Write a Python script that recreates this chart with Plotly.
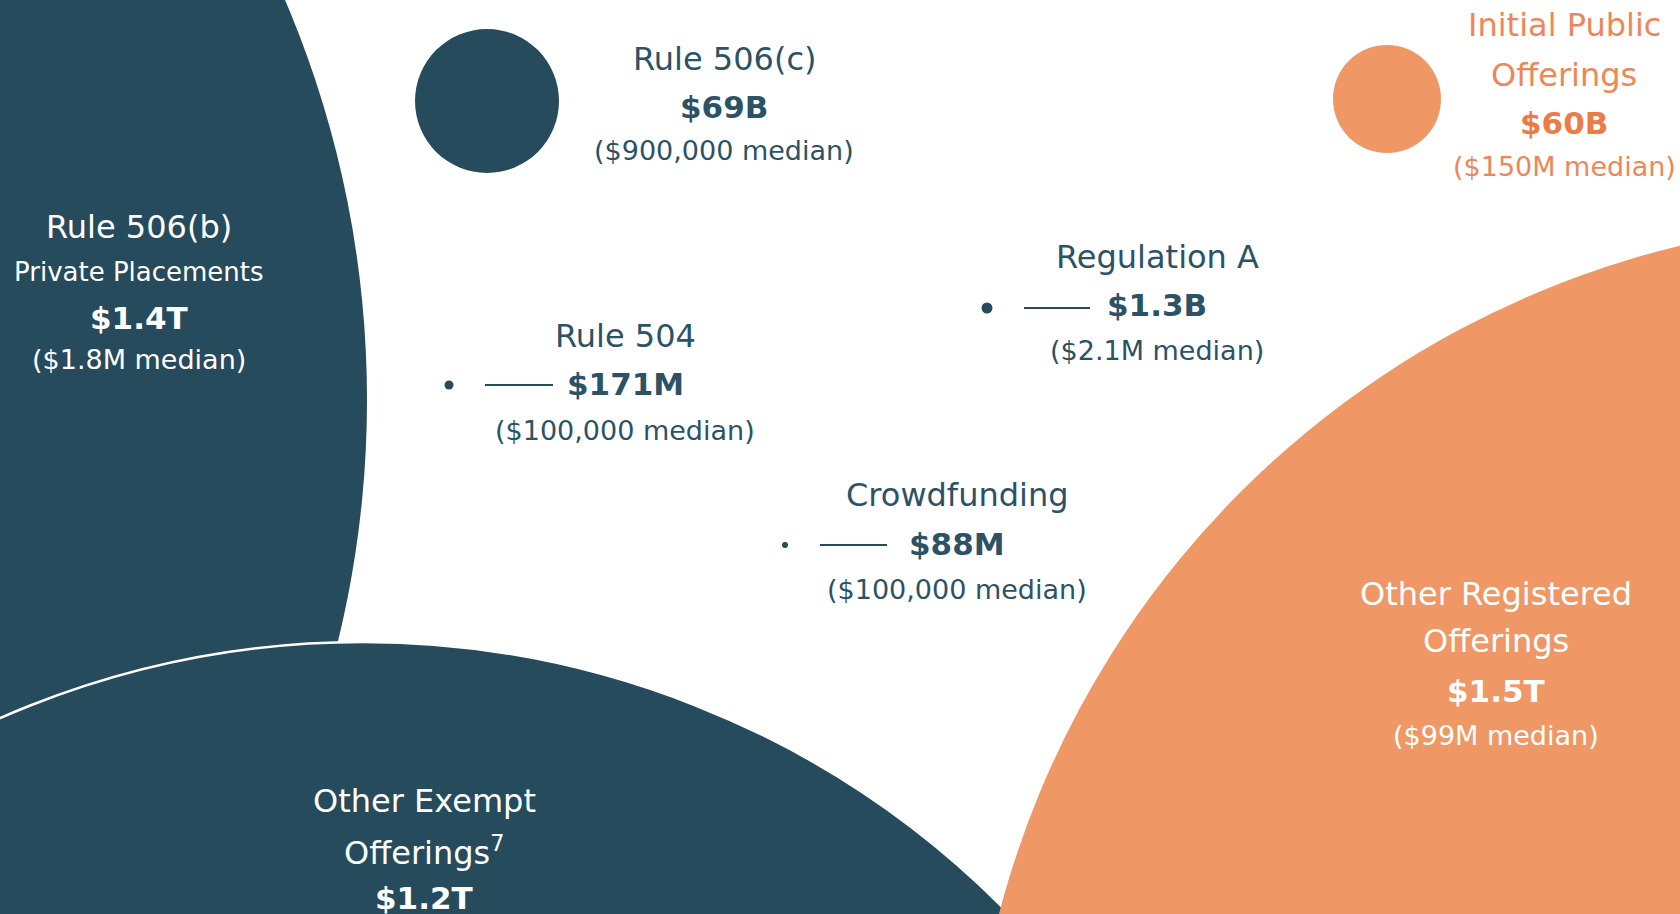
import plotly.graph_objects as go

# ---------------- data ----------------
categories = ["Rule 506(b)", "Rule 506(c)", "Initial Public Offerings", "Regulation A",
              "Rule 504", "Crowdfunding", "Other Registered Offerings", "Other Exempt Offerings"]
amounts_bn = [1400, 69, 60, 1.3, 0.171, 0.088, 1500, 1200]
amount_labels = ["$1.4T", "$69B", "$60B", "$1.3B", "$171M", "$88M", "$1.5T", "$1.2T"]
median_labels = ["($1.8M median)", "($900,000 median)", "($150M median)", "($2.1M median)",
                 "($100,000 median)", "($100,000 median)", "($99M median)", ""]
title_lines = [["Rule 506(b)", "Private Placements"], ["Rule 506(c)"], ["Initial Public", "Offerings"],
               ["Regulation A"], ["Rule 504"], ["Crowdfunding"], ["Other Registered", "Offerings"],
               ["Other Exempt", "Offerings<sup>7</sup>"]]
groups = ["exempt", "exempt", "registered", "exempt", "exempt", "exempt", "registered", "exempt"]

# ---------------- layout / style (not data) ----------------
W, H = 1680, 914
DARK = "#264B5C"
DARK_TXT = "#2C5265"
ORANGE = "#EF9866"
ORANGE_TXT = "#EE8757"
ORANGE_TXT_B = "#EC7C45"
FONT = "DejaVu Sans"

# bubble geometry in axis units (1 unit = 1 px)
bubble = {
    "Rule 506(b)": dict(cx=-650, cy=400, r=1017),
    "Rule 506(c)": dict(cx=487, cy=101, r=72),
    "Initial Public Offerings": dict(cx=1387, cy=99, r=54),
    "Regulation A": dict(cx=987, cy=308, r=5.5),
    "Rule 504": dict(cx=449, cy=385, r=4.5),
    "Crowdfunding": dict(cx=785, cy=545, r=3),
    "Other Registered Offerings": dict(cx=1897, cy=1148, r=928),
    "Other Exempt Offerings": dict(cx=363, cy=1546, r=904),
}
# label placement: x centre, line centres
label_pos = {
    "Rule 506(b)": dict(x=139, ys=[227, 272, 318, 359], inside=True),
    "Rule 506(c)": dict(x=724, ys=[59, 107, 150], inside=False),
    "Initial Public Offerings": dict(x=1564, ys=[25, 75, 123, 166], inside=False),
    "Regulation A": dict(x=1157, ys=[257, 305, 350], inside=False),
    "Rule 504": dict(x=625, ys=[336, 384, 430], inside=False),
    "Crowdfunding": dict(x=957, ys=[495, 544, 589], inside=False),
    "Other Registered Offerings": dict(x=1496, ys=[594, 641, 691, 735], inside=True),
    "Other Exempt Offerings": dict(x=424, ys=[801, 851, 898], inside=True),
}
# leader lines for tiny bubbles: (x0, x1)
leaders = {"Regulation A": (1024, 1090), "Rule 504": (485, 553), "Crowdfunding": (820, 887)}

fig = go.Figure()
shapes = []
draw_order = ["Rule 506(b)", "Other Exempt Offerings", "Other Registered Offerings",
              "Rule 506(c)", "Initial Public Offerings", "Regulation A", "Rule 504", "Crowdfunding"]
for name in draw_order:
    b = bubble[name]
    col = ORANGE if groups[categories.index(name)] == "registered" else DARK
    line = dict(width=0)
    if name == "Other Exempt Offerings":
        line = dict(color="white", width=2.5)
    shapes.append(dict(type="circle", xref="x", yref="y", layer="below",
                       x0=b["cx"] - b["r"], x1=b["cx"] + b["r"],
                       y0=b["cy"] - b["r"], y1=b["cy"] + b["r"],
                       fillcolor=col, opacity=1, line=line))

# invisible hover points for the bubbles
fig.add_trace(go.Scatter(
    x=[max(bubble[n]["cx"], 5) for n in categories], y=[min(bubble[n]["cy"], 909) for n in categories],
    mode="markers", marker=dict(size=1, opacity=0), hoverinfo="text",
    text=[f"{n}: {a}" for n, a in zip(categories, amount_labels)]))

for n, (x0, x1) in leaders.items():
    y = bubble[n]["cy"]
    shapes.append(dict(type="line", xref="x", yref="y", x0=x0, x1=x1, y0=y, y1=y,
                       line=dict(color=DARK, width=2)))

annotations = []
for i, name in enumerate(categories):
    lp = label_pos[name]
    inside = lp["inside"]
    reg = groups[i] == "registered"
    if inside:
        c_reg, c_bold = "white", "white"
    elif reg:
        c_reg, c_bold = ORANGE_TXT, ORANGE_TXT_B
    else:
        c_reg, c_bold = DARK_TXT, DARK_TXT
    lines = []
    for j, t in enumerate(title_lines[i]):
        size = 26 if t == "Private Placements" else 32
        lines.append((t, size, c_reg, False))
    lines.append((amount_labels[i], 31, c_bold, True))
    if median_labels[i]:
        lines.append((median_labels[i], 27, c_reg, False))
    for (t, size, col, bold), y in zip(lines, lp["ys"]):
        txt = f"<b>{t}</b>" if bold else t
        annotations.append(dict(x=lp["x"], y=y, xref="x", yref="y", text=txt, showarrow=False,
                                xanchor="center", yanchor="middle",
                                font=dict(family=FONT, size=size, color=col)))

fig.update_layout(
    width=W, height=H, margin=dict(l=0, r=0, t=0, b=0),
    paper_bgcolor="white", plot_bgcolor="white", showlegend=False,
    xaxis=dict(range=[0, W], visible=False, fixedrange=True),
    yaxis=dict(range=[H, 0], visible=False, fixedrange=True),
    shapes=shapes, annotations=annotations,
)
fig.write_html("out.html", config={"displayModeBar": False},
               post_script="document.body.style.margin='0';document.body.style.padding='0';"
                           "document.body.style.overflow='hidden';")
